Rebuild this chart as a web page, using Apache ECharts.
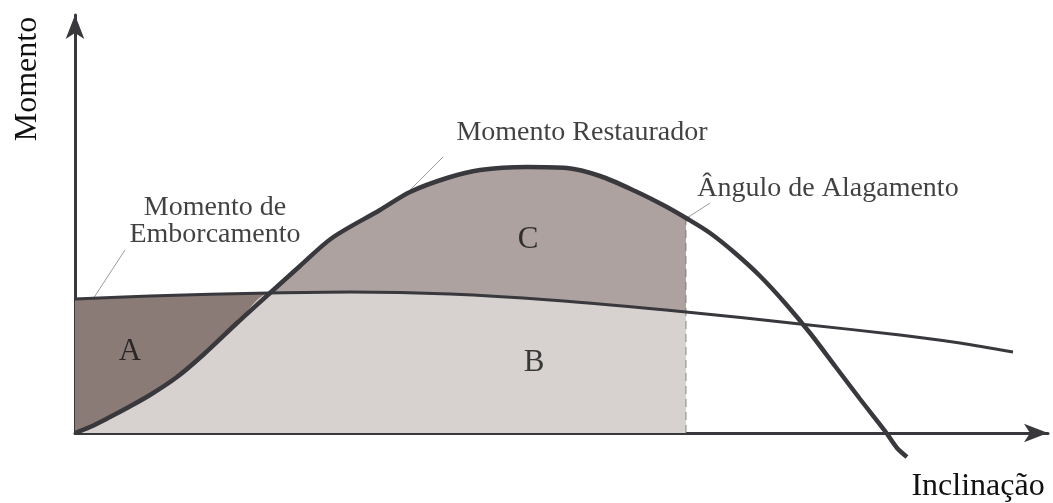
<!DOCTYPE html>
<html>
<head>
<meta charset="utf-8">
<script src="https://cdn.jsdelivr.net/npm/echarts@6/dist/echarts.min.js"></script>
<style>
  html, body { margin: 0; padding: 0; background: #fff; }
  #chart { width: 1053px; height: 503px; }
</style>
</head>
<body>
<div id="chart"></div>
<script>
// curvas (inclinação, momento)
const restaurador = [
  [0, 0], [1.5, 0.6], [3.5, 1.6], [5.2, 2.5], [7.5, 3.8], [10.2, 5.6],
  [12.8, 7.8], [16.2, 11.0], [19.5, 14.0], [22.5, 16.7], [25.7, 19.5],
  [30.5, 22.3], [33.5, 24.1], [37.2, 25.5], [40.5, 26.3], [45.2, 26.6],
  [49.2, 26.5], [52.5, 25.7], [56.0, 24.2], [59.0, 22.7], [61.1, 21.5],
  [63.5, 20.0], [66.0, 18.0], [68.5, 15.7], [71.0, 13.0], [73.5, 10.0],
  [76.0, 6.7], [78.5, 3.4], [81.0, 0.2], [82.2, -1.5], [83.2, -2.4]
]
const emborcamento = [
  [0, 13.4], [7.5, 13.7], [19.5, 14.0], [27.5, 14.1], [37.5, 13.9],
  [47.5, 13.3], [61.1, 12.1], [72.5, 10.9], [82.5, 9.8], [88.5, 9.0], [93.8, 8.1]
]
const cruzamento = 19.5   // onde as curvas se cruzam
const alagamento = 61.1   // ângulo de alagamento

const areaLabels = [
  { name: "A", value: [5.5, 8.1] },
  { name: "B", value: [45.9, 7.0] },
  { name: "C", value: [45.3, 19.3] }
]
const notes = [
  { name: "Momento Restaurador", value: [50.7, 30.0] },
  { name: "Momento de\nEmborcamento", value: [14.0, 21.2] },
  { name: "Ângulo de Alagamento", value: [75.3, 24.4] }
]
const leaders = [
  [[36.8, 27.6], [33.3, 24.1]],
  [[5.0, 18.3], [1.8, 13.4]],
  [[63.5, 23.0], [61.2, 21.5]]
]

const LINE = "#38383d"
const DARK = "#8a7b77"
const MID = "#ada29f"
const LIGHT = "#d7d1cf"
const FONT = '"Liberation Serif", "DejaVu Serif", serif'
const SMOOTH = 0.3

const areaA = emborcamento.filter(p => p[0] <= cruzamento)
const areaC = restaurador.filter(p => p[0] >= cruzamento && p[0] <= alagamento)
const areaB = restaurador.filter(p => p[0] <= cruzamento)
  .concat(emborcamento.filter(p => p[0] > cruzamento && p[0] <= alagamento))
const topAtFlood = restaurador.find(p => p[0] === alagamento)[1]

function areaSeries(data, color, z) {
  return {
    type: "line", data: data, smooth: SMOOTH, showSymbol: false, z: z,
    lineStyle: { width: 0 }, areaStyle: { color: color, opacity: 1 },
    silent: true
  }
}

const chart = echarts.init(document.getElementById("chart"))
chart.setOption({
  animation: false,
  grid: { left: 75, right: 5, top: 15, bottom: 70 },
  xAxis: {
    type: "value", min: 0, max: 97.3,
    axisLine: { show: true, symbol: ["none", "arrow"], symbolSize: [14, 24],
      lineStyle: { color: LINE, width: 3 } },
    axisTick: { show: false }, axisLabel: { show: false }, splitLine: { show: false }
  },
  yAxis: {
    type: "value", min: 0, max: 41.8,
    axisLine: { show: true, symbol: ["none", "arrow"], symbolSize: [14, 24],
      lineStyle: { color: LINE, width: 3 } },
    axisTick: { show: false }, axisLabel: { show: false }, splitLine: { show: false }
  },
  graphic: [
    { type: "text", x: 28, y: 79, rotation: Math.PI / 2,
      style: { text: "Momento", font: "32px " + FONT, fill: "#111",
        textAlign: "center", textVerticalAlign: "middle" } },
    { type: "text", x: 978, y: 487,
      style: { text: "Inclinação", font: "32px " + FONT, fill: "#111",
        textAlign: "center", textVerticalAlign: "middle" } }
  ],
  series: [
    areaSeries(areaA, DARK, 1),
    areaSeries(areaC, MID, 1),
    areaSeries(areaB, LIGHT, 2),
    {
      type: "lines", coordinateSystem: "cartesian2d", z: 3, silent: true,
      data: [{ coords: [[alagamento, 0], [alagamento, topAtFlood]] }],
      lineStyle: { color: "#6a6a6a", width: 1.5, type: [8, 5] }
    },
    {
      type: "lines", coordinateSystem: "cartesian2d", z: 3, silent: true,
      data: leaders.map(c => ({ coords: c })),
      lineStyle: { color: LINE, width: 1 }
    },
    {
      type: "line", data: emborcamento, smooth: SMOOTH, showSymbol: false, z: 4,
      clip: false, lineStyle: { color: LINE, width: 3 }
    },
    {
      type: "line", data: restaurador, smooth: SMOOTH, showSymbol: false, z: 5,
      clip: false, lineStyle: { color: LINE, width: 4.5 }
    },
    {
      type: "scatter", data: areaLabels, symbolSize: 0, z: 6, silent: true,
      label: { show: true, position: "inside", formatter: p => p.name,
        fontFamily: FONT, fontSize: 31, color: "#111" }
    },
    {
      type: "scatter", data: notes, symbolSize: 0, z: 6, silent: true,
      label: { show: true, position: "inside", formatter: p => p.name,
        fontFamily: FONT, fontSize: 28, color: "#111", lineHeight: 27, align: "center" }
    }
  ]
})
</script>
</body>
</html>
